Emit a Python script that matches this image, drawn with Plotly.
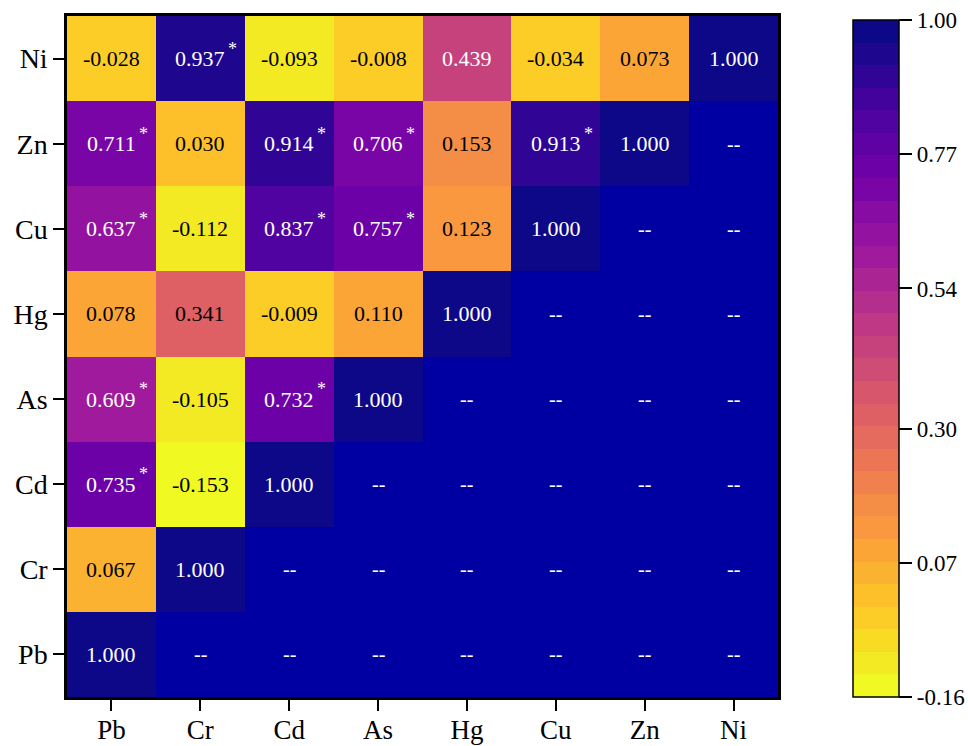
import numpy as np
import plotly.graph_objects as go
from plotly.colors import sample_colorscale
import plotly.express as px

elements = ["Pb", "Cr", "Cd", "As", "Hg", "Cu", "Zn", "Ni"]
# rows listed bottom (Pb) to top (Ni); values over x = Pb..(row element)
row_Pb = [1.000]
row_Cr = [0.067, 1.000]
row_Cd = [0.735, -0.153, 1.000]
row_As = [0.609, -0.105, 0.732, 1.000]
row_Hg = [0.078, 0.341, -0.009, 0.110, 1.000]
row_Cu = [0.637, -0.112, 0.837, 0.757, 0.123, 1.000]
row_Zn = [0.711, 0.030, 0.914, 0.706, 0.153, 0.913, 1.000]
row_Ni = [-0.028, 0.937, -0.093, -0.008, 0.439, -0.034, 0.073, 1.000]
# significance flags (1 = marked with *)
sig_Pb = [0]
sig_Cr = [0, 0]
sig_Cd = [1, 0, 0]
sig_As = [1, 0, 1, 0]
sig_Hg = [0, 0, 0, 0, 0]
sig_Cu = [1, 0, 1, 1, 0, 0]
sig_Zn = [1, 0, 1, 1, 0, 1, 0]
sig_Ni = [0, 1, 0, 0, 0, 0, 0, 0]

rows = [row_Pb, row_Cr, row_Cd, row_As, row_Hg, row_Cu, row_Zn, row_Ni]
sigs = [sig_Pb, sig_Cr, sig_Cd, sig_As, sig_Hg, sig_Cu, sig_Zn, sig_Ni]

cb_ticks = [-0.16, 0.07, 0.30, 0.54, 0.77, 1.00]
zmin, zmax = -0.16, 1.00
n_bands = 30

n = len(elements)
z = np.full((n, n), np.nan)
zblank = np.full((n, n), np.nan)
for j, r in enumerate(rows):
    for i in range(n):
        if i < len(r):
            z[j, i] = r[i]
        else:
            zblank[j, i] = 1.0

# discrete reversed plasma colorscale
cols = sample_colorscale(px.colors.sequential.Plasma_r, [k / (n_bands - 1) for k in range(n_bands)])
cscale = []
for k, c in enumerate(cols):
    cscale.append([k / n_bands, c])
    cscale.append([(k + 1) / n_bands, c])

FONT = "Liberation Serif"
fig = go.Figure()
fig.add_trace(go.Heatmap(
    x=elements, y=elements, z=zblank,
    colorscale=[[0, "#0000a2"], [1, "#0000a2"]], showscale=False, hoverinfo="skip",
))
cb_len = 677
fig.add_trace(go.Heatmap(
    x=elements, y=elements, z=z, zmin=zmin, zmax=zmax,
    colorscale=cscale,
    colorbar=dict(
        x=(853 - 67) / 711, xanchor="left", xpad=0, ypad=0,
        y=(697 - 358.5) / 681, yanchor="middle",
        lenmode="pixels", len=cb_len, thickness=46,
        outlinewidth=1.5, outlinecolor="black",
        tickmode="array", tickvals=cb_ticks, ticktext=[f"{v:.2f}" for v in cb_ticks],
        ticks="outside", ticklen=13, tickwidth=1.5, tickcolor="black",
        tickfont=dict(family=FONT, size=23, color="black"),
    ),
))

annotations = []
for j, r in enumerate(rows):
    for i in range(n):
        if i < len(r):
            v = r[i]
            color = "white" if v >= 0.4 else "black"
            annotations.append(dict(x=elements[i], y=elements[j], text=f"{v:.3f}", showarrow=False,
                                    font=dict(family=FONT, size=22, color=color)))
            if sigs[j][i]:
                annotations.append(dict(x=elements[i], y=elements[j], text="*", showarrow=False,
                                        xanchor="left", xshift=26, yshift=10,
                                        font=dict(family=FONT, size=18, color=color)))
        else:
            annotations.append(dict(x=elements[i], y=elements[j], text="--", showarrow=False,
                                    font=dict(family=FONT, size=20, color="white")))

axis_common = dict(
    showline=True, linecolor="black", linewidth=2.5, mirror=True,
    ticks="outside", ticklen=11, tickwidth=2, tickcolor="black",
    showgrid=False, zeroline=False, automargin=False,
)
fig.update_layout(
    width=968, height=746,
    margin=dict(l=67, r=190, t=16, b=49, autoexpand=False),
    paper_bgcolor="white", plot_bgcolor="white",
    xaxis=dict(**axis_common, type="category", categoryorder="array", categoryarray=elements,
               tickfont=dict(family=FONT, size=27, color="black"), ticklabelstandoff=-4),
    yaxis=dict(**axis_common, type="category", categoryorder="array", categoryarray=elements,
               tickfont=dict(family=FONT, size=28, color="black")),
    annotations=annotations,
    font=dict(family=FONT),
)
fig.write_html("out.html")
